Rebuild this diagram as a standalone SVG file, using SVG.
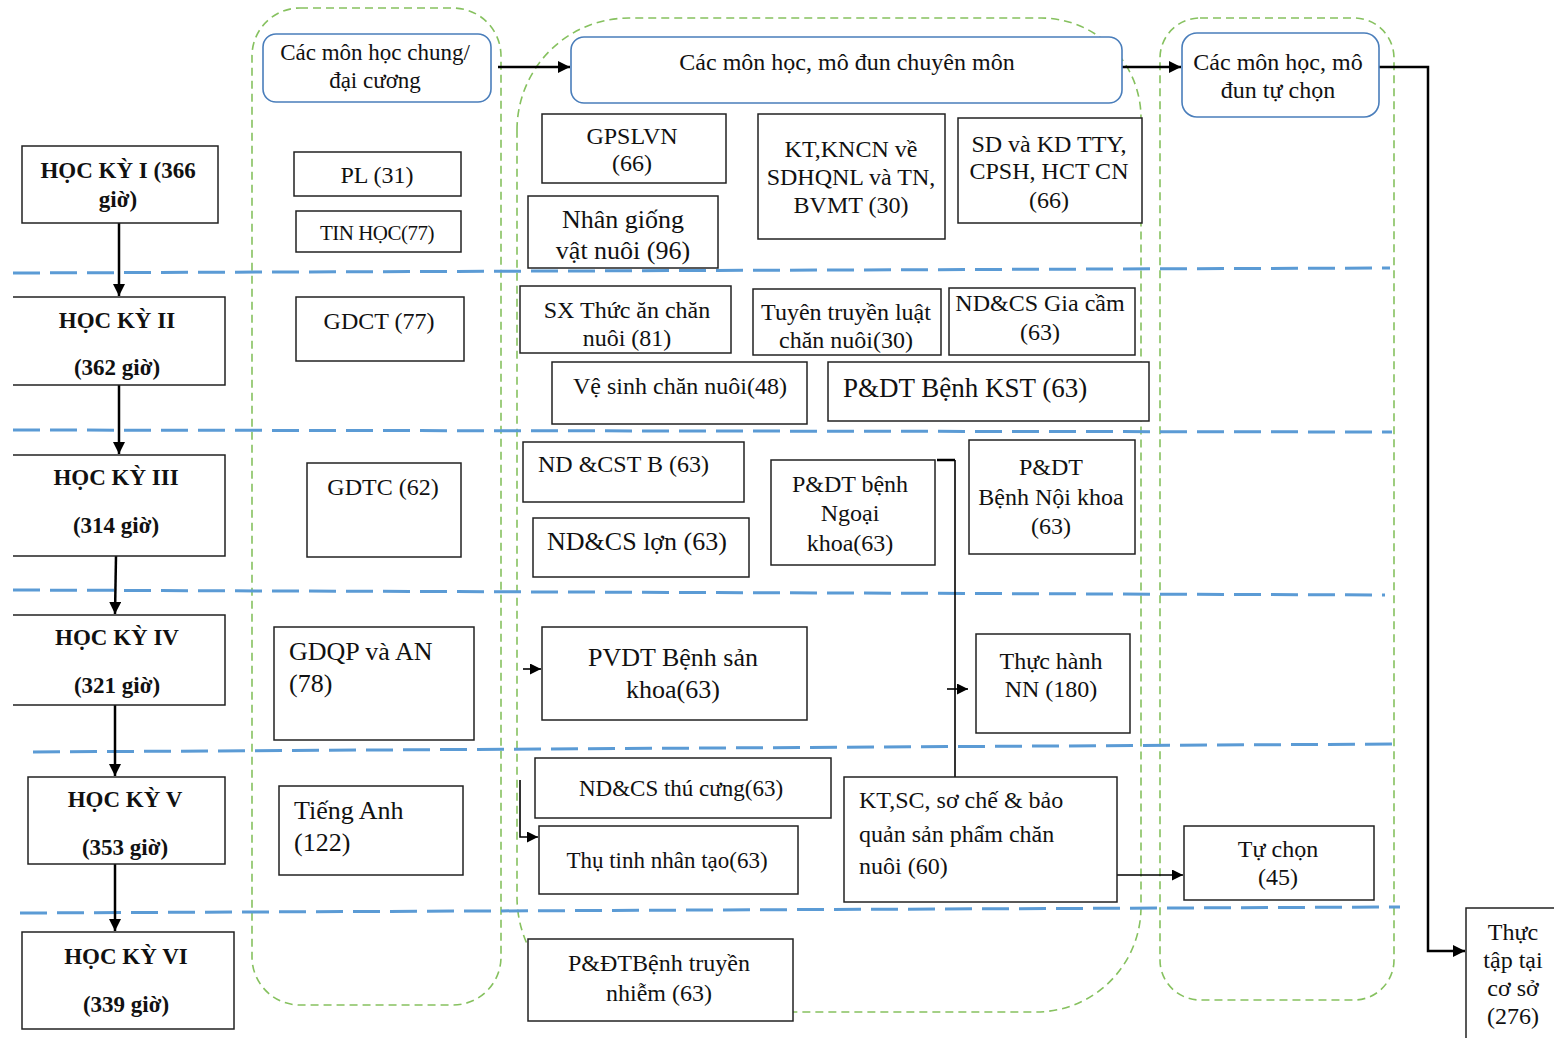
<svg xmlns="http://www.w3.org/2000/svg" width="1554" height="1038" viewBox="0 0 1554 1038">
<style>
.g{fill:none;stroke:#86C15F;stroke-width:1.6;stroke-dasharray:8 5}
.b{fill:none;stroke:#5B9BD5;stroke-width:3;stroke-dasharray:27 10}
.box{fill:#fff;stroke:#222;stroke-width:1.5}
.hdr{fill:#fff;stroke:#4A7EBB;stroke-width:1.6}
.t{font-family:'Liberation Serif','Times New Roman','DejaVu Serif',serif;font-size:24px;fill:#111;text-anchor:middle}
.s{font-weight:bold;font-size:23px}
.l{text-anchor:start}
.big{font-size:26px}
.c{fill:none;stroke:#000;stroke-width:2.5}
.c2{fill:none;stroke:#000;stroke-width:1.6}
</style>
<defs>
<marker id="ah" markerUnits="userSpaceOnUse" markerWidth="12" markerHeight="12" refX="12" refY="6" orient="auto">
<path d="M0,0 L12,6 L0,12 z" fill="#000"/>
</marker>
<marker id="ahs" markerUnits="userSpaceOnUse" markerWidth="11" markerHeight="11" refX="11" refY="5.5" orient="auto">
<path d="M0,0 L11,5.5 L0,11 z" fill="#000"/>
</marker>
</defs>
<rect width="1554" height="1038" fill="#fff"/>

<g id="containers">
<rect class="g" x="252" y="8" width="249" height="997" rx="48" ry="48"/>
<path class="g" d="M517 130 A112 112 0 0 1 629 18 H1041 A100 100 0 0 1 1141 118 V907 A105 105 0 0 1 1036 1012 H632 A115 115 0 0 1 517 897 Z"/>
<rect class="g" x="1160" y="18" width="234" height="982" rx="40" ry="40"/>
</g>

<g id="semester-lines">
<line class="b" x1="13" y1="273" x2="1390" y2="268"/>
<line class="b" x1="13" y1="430" x2="1392" y2="432"/>
<line class="b" x1="13" y1="590" x2="1385" y2="595"/>
<line class="b" x1="33" y1="752" x2="1392" y2="744"/>
<line class="b" x1="20" y1="913" x2="1400" y2="907"/>
</g>

<g id="connectors">
<path class="c" d="M119 223 V296" marker-end="url(#ah)"/>
<path class="c" d="M119 385 V454" marker-end="url(#ah)"/>
<path class="c" d="M116 556 L115 614" marker-end="url(#ah)"/>
<path class="c" d="M115 705 V776" marker-end="url(#ah)"/>
<path class="c" d="M115 864 V931" marker-end="url(#ah)"/>
<path class="c" d="M498 67 H570" marker-end="url(#ah)"/>
<path class="c" d="M1115 67 H1181" marker-end="url(#ah)"/>
<path class="c" d="M1379 67 H1428 V951 H1465" marker-end="url(#ah)"/>
<path class="c" d="M937 460 H955"/>
<path class="c2" d="M955 460 V777"/>
<path class="c2" d="M947 689 H968" marker-end="url(#ahs)"/>
<path class="c2" d="M523 669 H541" marker-end="url(#ahs)"/>
<path class="c2" d="M520 780 V837 H538" marker-end="url(#ahs)"/>
<path class="c2" d="M1117 875 H1183" marker-end="url(#ahs)"/>
</g>

<g id="hk1"><rect class="box" x="22" y="146" width="196" height="77"/>
<text class="t s" x="118" y="178">HỌC KỲ I (366</text><text class="t s" x="118" y="207">giờ)</text></g>
<g id="hk2"><path class="box" d="M13 297 H225 V385 H13"/>
<text class="t s" x="117" y="328">HỌC KỲ II</text><text class="t s" x="117" y="375">(362 giờ)</text></g>
<g id="hk3"><path class="box" d="M13 455 H225 V556 H13"/>
<text class="t s" x="116" y="485">HỌC KỲ III</text><text class="t s" x="116" y="533">(314 giờ)</text></g>
<g id="hk4"><path class="box" d="M13 615 H225 V705 H13"/>
<text class="t s" x="117" y="645">HỌC KỲ IV</text><text class="t s" x="117" y="693">(321 giờ)</text></g>
<g id="hk5"><rect class="box" x="28" y="777" width="197" height="87"/>
<text class="t s" x="125" y="807">HỌC KỲ V</text><text class="t s" x="125" y="855">(353 giờ)</text></g>
<g id="hk6"><rect class="box" x="22" y="932" width="212" height="97"/>
<text class="t s" x="126" y="964">HỌC KỲ VI</text><text class="t s" x="126" y="1012">(339 giờ)</text></g>

<g id="hdr-chung"><rect class="hdr" x="263" y="34" width="228" height="68" rx="13"/>
<text class="t" style="font-size:23px" x="375" y="60">Các môn học chung/</text><text class="t" style="font-size:23px" x="375" y="88">đại cương</text></g>
<g id="hdr-chuyenmon"><rect class="hdr" x="571" y="37" width="551" height="66" rx="13"/>
<text class="t" x="847" y="70">Các môn học, mô đun chuyên môn</text></g>
<g id="hdr-tuchon"><rect class="hdr" x="1182" y="33" width="197" height="84" rx="15"/>
<text class="t" x="1278" y="70">Các môn học, mô</text><text class="t" x="1278" y="98">đun tự chọn</text></g>

<g id="pl"><rect class="box" x="294" y="152" width="167" height="44"/><text class="t" x="377" y="183">PL (31)</text></g>
<g id="tinhoc"><rect class="box" x="296" y="211" width="165" height="41"/><text class="t" style="font-size:21px;letter-spacing:-0.5px" x="377" y="240">TIN HỌC(77)</text></g>
<g id="gdct"><rect class="box" x="296" y="297" width="168" height="64"/><text class="t" x="379" y="329">GDCT (77)</text></g>
<g id="gdtc"><rect class="box" x="307" y="463" width="154" height="94"/><text class="t" x="383" y="495">GDTC (62)</text></g>
<g id="gdqp"><rect class="box" x="274" y="627" width="200" height="113"/><text class="t l big" x="289" y="660">GDQP và AN</text><text class="t l big" x="289" y="692">(78)</text></g>
<g id="tienganh"><rect class="box" x="279" y="786" width="184" height="89"/><text class="t l big" x="294" y="819">Tiếng Anh</text><text class="t l big" x="294" y="851">(122)</text></g>

<g id="gpslvn"><rect class="box" x="542" y="114" width="184" height="69"/><text class="t" x="632" y="144">GPSLVN</text><text class="t" x="632" y="171">(66)</text></g>
<g id="nhangiong"><rect class="box" x="528" y="196" width="190" height="72"/><text class="t big" x="623" y="228">Nhân giống</text><text class="t big" x="623" y="259">vật nuôi (96)</text></g>
<g id="ktkncn"><rect class="box" x="758" y="114" width="187" height="125"/><text class="t" x="851" y="157">KT,KNCN về</text><text class="t" x="851" y="185">SDHQNL và TN,</text><text class="t" x="851" y="213">BVMT (30)</text></g>
<g id="sdkd"><rect class="box" x="958" y="118" width="184" height="105"/><text class="t" x="1049" y="152">SD và KD TTY,</text><text class="t" x="1049" y="179">CPSH, HCT CN</text><text class="t" x="1049" y="208">(66)</text></g>
<g id="sxthucan"><rect class="box" x="520" y="286" width="211" height="67"/><text class="t" x="627" y="318">SX Thức ăn chăn</text><text class="t" x="627" y="346">nuôi (81)</text></g>
<g id="tuyentruyen"><rect class="box" x="753" y="289" width="188" height="66"/><text class="t" x="846" y="320">Tuyên truyền luật</text><text class="t" x="846" y="348">chăn nuôi(30)</text></g>
<g id="giacam"><rect class="box" x="949" y="288" width="186" height="67"/><text class="t" x="1040" y="311">ND&amp;CS Gia cầm</text><text class="t" x="1040" y="340">(63)</text></g>
<g id="vesinh"><rect class="box" x="552" y="362" width="255" height="62"/><text class="t" x="680" y="394">Vệ sinh chăn nuôi(48)</text></g>
<g id="kst"><rect class="box" x="828" y="362" width="321" height="59"/><text class="t l" style="font-size:27px" x="843" y="397">P&amp;DT Bệnh KST (63)</text></g>
<g id="ndcstb"><rect class="box" x="523" y="442" width="221" height="60"/><text class="t l" x="538" y="472">ND &amp;CST B (63)</text></g>
<g id="lon"><rect class="box" x="533" y="518" width="216" height="59"/><text class="t big" x="637" y="550">ND&amp;CS lợn (63)</text></g>
<g id="ngoaikhoa"><rect class="box" x="771" y="460" width="164" height="105"/><text class="t" x="850" y="492">P&amp;DT bệnh</text><text class="t" x="850" y="521">Ngoại</text><text class="t" x="850" y="551">khoa(63)</text></g>
<g id="noikhoa"><rect class="box" x="969" y="440" width="166" height="114"/><text class="t" x="1051" y="475">P&amp;DT</text><text class="t" x="1051" y="505">Bệnh Nội khoa</text><text class="t" x="1051" y="534">(63)</text></g>
<g id="sankhoa"><rect class="box" x="542" y="627" width="265" height="93"/><text class="t big" x="673" y="666">PVDT Bệnh sản</text><text class="t big" x="673" y="698">khoa(63)</text></g>
<g id="thuchanh"><rect class="box" x="976" y="634" width="154" height="99"/><text class="t" x="1051" y="669">Thực hành</text><text class="t" x="1051" y="697">NN (180)</text></g>
<g id="thucung"><rect class="box" x="535" y="758" width="296" height="60"/><text class="t" style="font-size:23px" x="681" y="796">ND&amp;CS thú cưng(63)</text></g>
<g id="thutinh"><rect class="box" x="539" y="826" width="259" height="68"/><text class="t" style="font-size:23px" x="667" y="868">Thụ tinh nhân tạo(63)</text></g>
<g id="ktsc"><rect class="box" x="844" y="777" width="273" height="125"/><text class="t l" x="859" y="808">KT,SC, sơ chế &amp; bảo</text><text class="t l" x="859" y="842">quản sản phẩm chăn</text><text class="t l" x="859" y="874">nuôi (60)</text></g>
<g id="truyennhiem"><rect class="box" x="528" y="939" width="265" height="82"/><text class="t" x="659" y="971">P&amp;ĐTBệnh truyền</text><text class="t" x="659" y="1001">nhiễm (63)</text></g>
<g id="tuchon"><rect class="box" x="1184" y="826" width="190" height="74"/><text class="t" x="1278" y="857">Tự chọn</text><text class="t" x="1278" y="885">(45)</text></g>
<g id="thuctap"><rect class="box" x="1466" y="908" width="120" height="140"/><text class="t" x="1513" y="940">Thực</text><text class="t" x="1513" y="968">tập tại</text><text class="t" x="1513" y="996">cơ sở</text><text class="t" x="1513" y="1024">(276)</text></g>
</svg>
